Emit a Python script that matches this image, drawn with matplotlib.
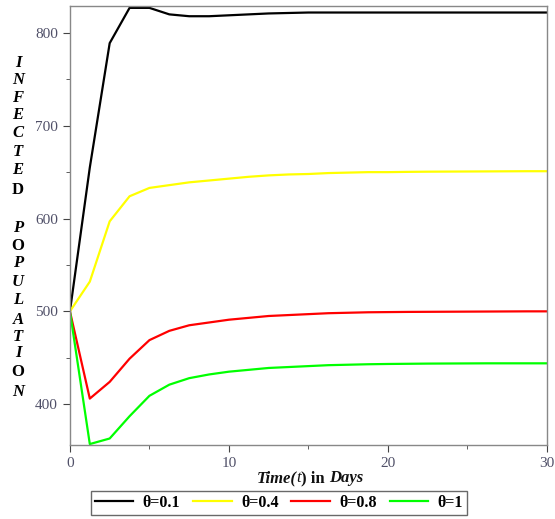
import numpy as np
import matplotlib
matplotlib.use('Agg')
import matplotlib.pyplot as plt
from matplotlib.offsetbox import TextArea, HPacker, AnnotationBbox
from matplotlib.ticker import MultipleLocator

# time grid of the solver output (days)
t = [0, 1.25, 2.5, 3.75, 5, 6.25, 7.5, 8.75, 10, 11.25, 12.5, 13.75, 15,
     16.25, 17.5, 18.75, 20, 21.25, 22.5, 23.75, 25, 26.25, 27.5, 28.75, 30]

theta_01 = [500, 655, 789, 827, 827, 820, 818, 818, 819, 820, 821, 821.5, 822,
            822, 822, 822, 822, 822, 822, 822, 822, 822, 822, 822, 822]
theta_04 = [500, 532, 597, 624, 633, 636, 639, 641, 643, 645, 646.5, 647.5, 648,
            649, 649.5, 650, 650, 650.3, 650.5, 650.6, 650.7, 650.8, 650.9, 651, 651]
theta_08 = [500, 406, 424, 449, 469, 479, 485, 488, 491, 493, 495, 496, 497,
            498, 498.5, 499, 499.2, 499.4, 499.5, 499.6, 499.7, 499.8, 499.9, 500, 500]
theta_1 = [500, 357, 363, 387, 409, 421, 428, 432, 435, 437, 439, 440, 441,
           442, 442.5, 443, 443.3, 443.5, 443.7, 443.8, 443.9, 444, 444, 444, 444]

series = [(theta_01, 'θ=0.1', '#000000'),
          (theta_04, 'θ=0.4', '#ffff00'),
          (theta_08, 'θ=0.8', '#ff0000'),
          (theta_1, 'θ=1', '#00ff00')]

ylab_top = list('INFECTED')
ylab_bot = list('POPULATION')

tick_col = '#505068'
serif = 'Liberation Serif'

fig = plt.figure(figsize=(5.55, 5.19), dpi=100)
ax = fig.add_axes([0.126, 0.1426, 0.8596, 0.8458])

handles = []
for vals, lab, col in series:
    h, = ax.plot(t, vals, color=col, lw=1.6, label=lab)
    handles.append(h)

ax.set_xlim(0, 30)
ax.set_ylim(356, 829)
ax.xaxis.set_major_locator(MultipleLocator(10))
ax.xaxis.set_minor_locator(MultipleLocator(5))
ax.yaxis.set_major_locator(MultipleLocator(100))
ax.yaxis.set_minor_locator(MultipleLocator(50))
ax.tick_params(which='both', direction='out', colors='#444444',
               labelcolor=tick_col, labelsize=11)
ax.tick_params(which='major', length=5)
ax.tick_params(which='minor', length=3)
for lb in ax.get_xticklabels() + ax.get_yticklabels():
    lb.set_family(serif)
for sp in ax.spines.values():
    sp.set_color('#888888')
    sp.set_linewidth(1.0)

# stacked y label letters
ys_top = [63, 80, 98, 115, 133, 152, 170, 190]
ys_bot = [228, 246, 263, 282, 300, 320, 337, 353, 372, 392]
upright = {('top', 7), ('bot', 1), ('bot', 8)}
for i, (ch, yp) in enumerate(zip(ylab_top, ys_top)):
    st = 'normal' if ('top', i) in upright else 'italic'
    fig.text(18 / 555, 1 - yp / 519, ch, ha='center', va='center',
             fontsize=12, fontweight='bold', style=st, family=serif)
for i, (ch, yp) in enumerate(zip(ylab_bot, ys_bot)):
    st = 'normal' if ('bot', i) in upright else 'italic'
    fig.text(18 / 555, 1 - yp / 519, ch, ha='center', va='center',
             fontsize=12, fontweight='bold', style=st, family=serif)

# x label with mixed styles
parts = [('Time(', 'bold', 'italic'), ('t', 'normal', 'italic'),
         (') in ', 'bold', 'normal'), ('Days', 'bold', 'italic')]
areas = [TextArea(s, textprops=dict(fontsize=12, fontweight=w, style=st,
                                    family=serif, color='#111111'))
         for s, w, st in parts]
box = HPacker(children=areas, pad=0, sep=0, align='baseline')
ab = AnnotationBbox(box, (310 / 555, 1 - 478 / 519), xycoords='figure fraction',
                    frameon=False, box_alignment=(0.5, 0.5))
fig.add_artist(ab)

leg = fig.legend(handles=handles, loc='center', ncol=4,
                 bbox_to_anchor=(279 / 555, 1 - 503 / 519),
                 prop=dict(family=serif, weight='bold', size=11.5),
                 frameon=True, fancybox=False, edgecolor='#444444',
                 handlelength=2.4, columnspacing=0.8, handletextpad=0.6,
                 borderpad=0.25, borderaxespad=0.2)
leg.get_frame().set_linewidth(1.0)

fig.savefig('out.png', dpi=100)
